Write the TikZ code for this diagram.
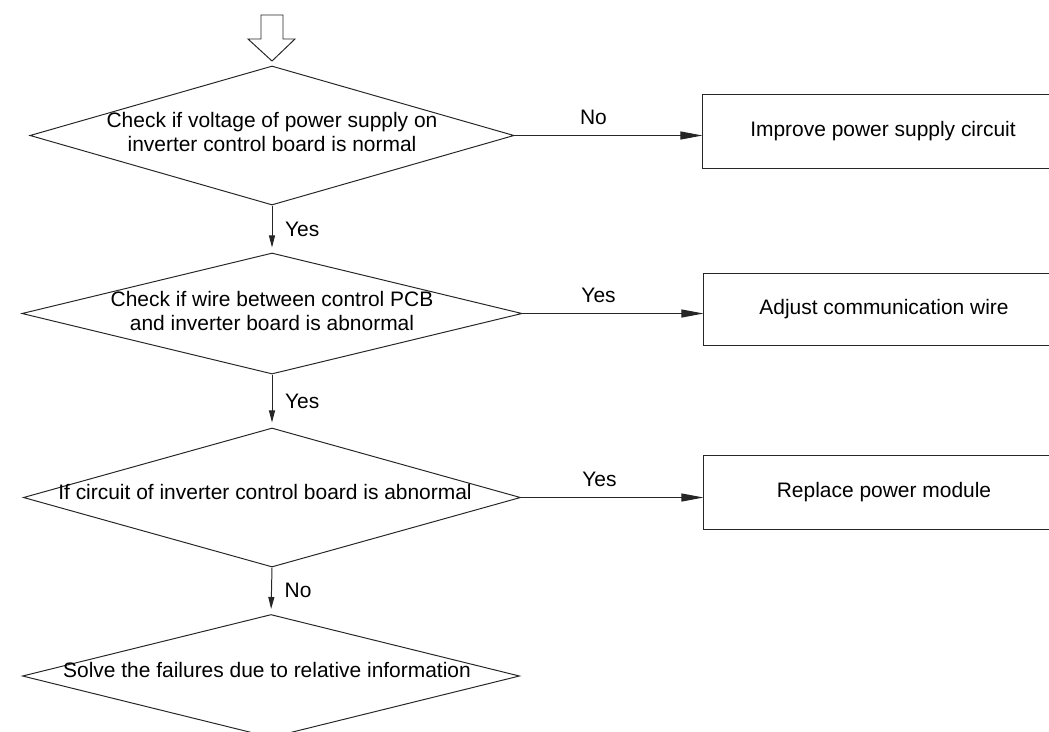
\documentclass[tikz,border=0pt]{standalone}
\usepackage{fontspec}
\setmainfont{Liberation Sans}
\usepackage{tikz}
\usetikzlibrary{arrows.meta,shapes.geometric}

\begin{document}
\begin{tikzpicture}[
  x=0.025cm, y=-0.025cm,
  line width=0.7pt,
  font=\fontsize{14.9}{16.4}\selectfont,
  decision/.style={draw=black!85, diamond, inner sep=0pt},
  action/.style={draw=black!85, minimum width=9cm, inner sep=0pt},
  txt/.style={align=center, inner sep=0pt},
  lbl/.style={inner sep=0pt},
  harrow/.style={draw=black!85, -{Triangle[length=5.5mm, width=2mm]}},
  varrow/.style={draw=black!85, -{Triangle[length=3mm, width=1.5mm]}, shorten >=1.25mm}
]
\useasboundingbox (0,0) rectangle (1049,731);
\clip (0,0) rectangle (1049,731);

% start marker
\draw[black!85] (261,15) -- (283,15) -- (283,39) -- (295,39) -- (272,61) -- (248,39) -- (261,39) -- cycle;

% decisions
\node[decision, minimum width=12.1cm, minimum height=3.475cm] (volt) at (272,135.5) {};
\node[txt] (voltt) at (272,132) {Check if voltage of power supply on\\inverter control board is normal};
\node[decision, minimum width=12.5cm, minimum height=3.025cm] (wire) at (272,313.5) {};
\node[txt] (wiret) at (272,311) {Check if wire between control PCB\\and inverter board is abnormal};
\node[decision, minimum width=12.425cm, minimum height=3.475cm] (circ) at (272,497.5) {};
\node[txt] (circt) at (265,492) {If circuit of inverter control board is abnormal};
\node[decision, minimum width=12.425cm, minimum height=3.075cm] (solve) at (271,676) {};
\node[txt] (solvet) at (267,670) {Solve the failures due to relative information};

% actions
\node[action, minimum height=1.85cm] (power) at (883,131) {Improve power supply circuit};
\node[action, minimum height=1.8cm] (comm) at (884,309) {Adjust communication wire};
\node[action, minimum height=1.85cm] (module) at (884,492) {Replace power module};

% connectors
\draw[harrow] (volt.east) -- node[lbl, pos=0.42, above=7pt] {No} (volt.east -| power.west);
\draw[harrow] (wire.east) -- node[lbl, pos=0.42, above=7pt] {Yes} (wire.east -| comm.west);
\draw[harrow] (circ.east) -- node[lbl, pos=0.43, above=7pt] {Yes} (circ.east -| module.west);
\draw[varrow] (volt.south) -- node[lbl, right=9pt] {Yes} (wire.north);
\draw[varrow] (wire.south) -- node[lbl, right=9pt] {Yes} (circ.north);
\draw[varrow] (circ.south) -- node[lbl, right=9pt] {No} (solve.north);
\end{tikzpicture}
\end{document}
